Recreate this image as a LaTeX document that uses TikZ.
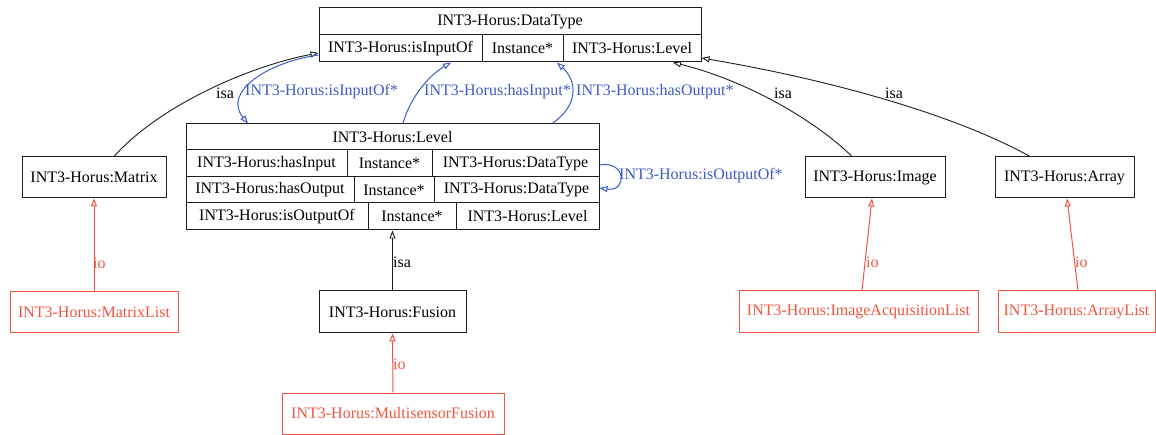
\documentclass[tikz,border=0pt]{standalone}
\usepackage{fontspec}
\setmainfont{Liberation Serif}
\usetikzlibrary{arrows.meta}
\definecolor{edgeblue}{RGB}{60,90,200}
\definecolor{edgered}{RGB}{240,85,65}
\definecolor{linegray}{RGB}{30,30,30}
\begin{document}
\begin{tikzpicture}[x=1pt,y=-1pt,
  font=\fontsize{16}{18}\selectfont,
  cell/.style={draw=linegray, line width=1pt, inner sep=0pt, minimum height=27pt, anchor=center},
  box/.style={draw=linegray, line width=1pt, inner sep=0pt, minimum height=41pt, anchor=center},
  redbox/.style={draw=edgered, text=edgered, line width=1pt, inner sep=0pt, minimum height=41pt, anchor=center},
  tip/.style={-{Triangle[open,length=8pt,width=6pt]}},
  isaedge/.style={tip, draw=linegray, line width=0.9pt},
  reledge/.style={tip, draw=edgeblue, line width=1pt},
  ioedge/.style={tip, draw=edgered, line width=1pt},
  lbl/.style={inner sep=0pt, text=black},
  bluelbl/.style={inner sep=0pt, text=edgeblue, anchor=west},
  redlbl/.style={inner sep=0pt, text=edgered, anchor=west}]
\useasboundingbox (0,0) rectangle (1156,435);
% DataType record
\node[cell, minimum width=382pt, minimum height=54pt] (dt) at (510,35) {};
\node[cell, minimum width=382pt] (dth) at (510,21.5) {INT3-Horus:DataType};
\node[cell, minimum width=163pt] (dt1) at (400.5,48.5) {INT3-Horus:isInputOf};
\node[cell, minimum width=81pt] (dt2) at (522.5,48.5) {Instance*};
\node[cell, minimum width=138pt] (dt3) at (632,48.5) {INT3-Horus:Level};
% Level record
\node[cell, minimum width=413pt, minimum height=106pt] (lv) at (392.5,177) {};
\node[cell, minimum width=413pt, minimum height=26pt] (lvh) at (392.5,137) {INT3-Horus:Level};
\node[cell, minimum width=161pt] (lva1) at (266.5,163.5) {INT3-Horus:hasInput};
\node[cell, minimum width=85pt] (lva2) at (389.5,163.5) {Instance*};
\node[cell, minimum width=167pt] (lva3) at (515.5,163.5) {INT3-Horus:DataType};
\node[cell, minimum width=168pt, minimum height=26pt] (lvb1) at (270,190) {INT3-Horus:hasOutput};
\node[cell, minimum width=80pt, minimum height=26pt] (lvb2) at (394,190) {Instance*};
\node[cell, minimum width=165pt, minimum height=26pt] (lvb3) at (516.5,190) {INT3-Horus:DataType};
\node[cell, minimum width=182pt] (lvc1) at (277,216.5) {INT3-Horus:isOutputOf};
\node[cell, minimum width=88pt] (lvc2) at (412,216.5) {Instance*};
\node[cell, minimum width=143pt] (lvc3) at (527.5,216.5) {INT3-Horus:Level};
% simple classes
\node[box, minimum width=144pt] (mx) at (94,177.5) {INT3-Horus:Matrix};
\node[box, minimum width=140pt] (im) at (875,177.5) {INT3-Horus:Image};
\node[box, minimum width=139pt] (ar) at (1064.5,177.5) {INT3-Horus:Array};
\node[box, minimum width=147pt, minimum height=42pt] (fu) at (392.5,312) {INT3-Horus:Fusion};
% instances
\node[redbox, minimum width=168pt] (mxl) at (94,312.5) {INT3-Horus:MatrixList};
\node[redbox, minimum width=222pt] (ms) at (393,413.5) {INT3-Horus:MultisensorFusion};
\node[redbox, minimum width=239pt, minimum height=42pt] (ial) at (858.5,312) {INT3-Horus:ImageAcquisitionList};
\node[redbox, minimum width=157pt, minimum height=42pt] (arl) at (1076.5,312) {INT3-Horus:ArrayList};
% isa edges
\draw[isaedge] ([xshift=20pt]mx.north) .. controls (160,105) and (250,66) .. ([yshift=-18pt]dt.west);
\node[lbl] (l1) at (225,93) {isa};
\draw[isaedge] ([xshift=-23pt]im.north) .. controls (815,120) and (745,80) .. ([xshift=163pt]dt.south);
\node[lbl] (l2) at (783,93) {isa};
\draw[isaedge] ([xshift=-34.5pt]ar.north) .. controls (950,112) and (820,78) .. ([yshift=-23pt]dt.east);
\node[lbl] (l3) at (894,93) {isa};
\draw[isaedge] (fu.north) -- (lv.south);
\node[lbl, anchor=west] (l4) at (393,262) {isa};
% relation edges
\draw[reledge] ([yshift=-20pt]dt.west) .. controls (268,62) and (222,92) .. ([xshift=-144.5pt]lv.north);
\node[bluelbl] (b1) at (245,92) {INT3-Horus:isInputOf*};
\draw[reledge] ([xshift=10.5pt]lv.north) .. controls (410,98) and (428,76) .. ([xshift=-59pt]dt.south);
\node[bluelbl] (b2) at (424,92) {INT3-Horus:hasInput*};
\draw[reledge] ([xshift=159.5pt]lv.north) .. controls (578,106) and (578,82) .. ([xshift=47pt]dt.south);
\node[bluelbl] (b3) at (576,92) {INT3-Horus:hasOutput*};
\draw[reledge] ([yshift=12pt]lv.east) .. controls (626,160) and (628,192) .. ([yshift=-11pt]lv.east);
\node[bluelbl] (b4) at (619,175.5) {INT3-Horus:isOutputOf*};
% io edges
\draw[ioedge] (mxl.north) -- (mx.south);
\node[redlbl] (r1) at (93,263) {io};
\draw[ioedge] (ms.north) -- (fu.south);
\node[redlbl] (r2) at (393,364) {io};
\draw[ioedge] ([xshift=3.5pt]ial.north) -- ([xshift=-3pt]im.south);
\node[redlbl] (r3) at (866,262) {io};
\draw[ioedge] ([xshift=1.5pt]arl.north) -- ([xshift=2.5pt]ar.south);
\node[redlbl] (r4) at (1075,262) {io};
\end{tikzpicture}
\end{document}
